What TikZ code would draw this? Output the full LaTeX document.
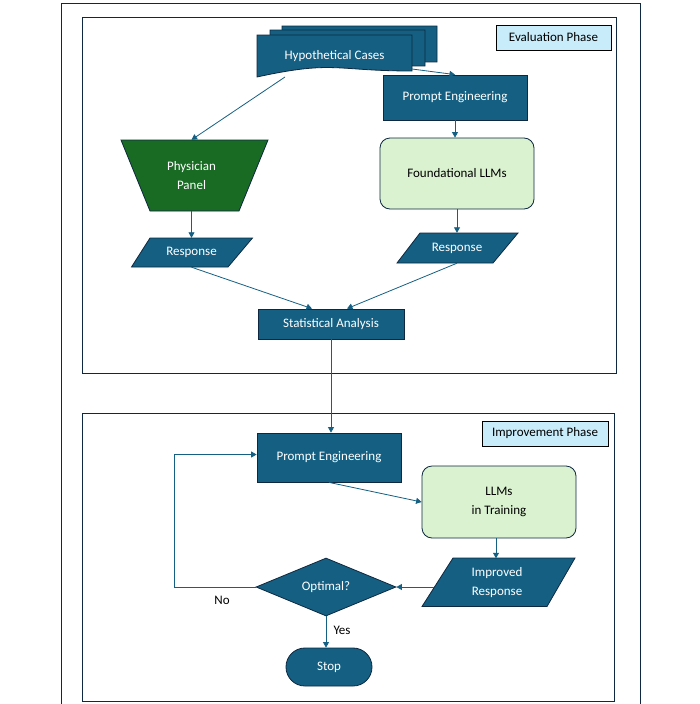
\documentclass[tikz,border=0pt]{standalone}
\usepackage{fontspec}
\setmainfont{Carlito}
\usetikzlibrary{arrows.meta,shapes.geometric,calc}
\definecolor{acc1}{HTML}{156082}
\definecolor{navy}{HTML}{0E2841}
\definecolor{dgreen}{HTML}{196B24}
\definecolor{lgreen}{HTML}{DAF2D0}
\definecolor{lblue}{HTML}{C9ECFA}
\begin{document}
\begin{tikzpicture}[x=1pt,y=-1pt,
  txt/.style={font=\fontsize{13}{19}\selectfont, align=center, inner sep=0pt},
  bbox/.style={txt, draw=navy, line width=0.8pt, fill=acc1, text=white},
  gbox/.style={txt, draw=navy, line width=0.8pt, fill=lgreen, text=black, rounded corners=10pt},
  wtxt/.style={txt, text=white},
  shp/.style={draw=navy, line width=0.8pt},
  phase/.style={txt, draw=black, line width=0.8pt, fill=lblue, text=black},
  arr/.style={draw=acc1, line width=0.8pt, -{Triangle[length=5.5pt,width=6pt]}},
  frm/.style={draw=navy, line width=1pt}]
\useasboundingbox (0,0) rectangle (700,704);
\fill[white] (0,0) rectangle (700,704);
% frames
\draw[frm] (61,704) -- (61,3) -- (640,3) -- (640,704);
\draw[frm] (82,17) rectangle (616,373);
\draw[frm] (82,413) rectangle (614,701);
% phase labels
\node[phase, minimum width=115, minimum height=25] (evl) at (553.5,37.5) {Evaluation Phase};
\node[phase, minimum width=126, minimum height=25] (iml) at (545,433.5) {Improvement Phase};
% hypothetical cases (multi-document)
\foreach \L/\T in {282/26, 270/30, 257/35}{
  \path[shp, fill=acc1] (\L,\T) -- ++(155,0) -- ++(0,36)
    .. controls ++(-77.5,0) and ++(77.5,-16.9) .. ++(-155,6) -- cycle;
}
\node[wtxt] (hyp) at (334.5,56) {Hypothetical Cases};
\coordinate (h1) at (285,77);
\coordinate (h2) at (412,69);
% prompt engineering 1
\node[bbox, minimum width=144, minimum height=45] (pe1) at (455,97.5) {Prompt Engineering};
% physician panel
\path[shp, fill=dgreen] (121,140) -- (268,140) -- (239,211) -- (150,211) -- cycle;
\node[wtxt, minimum width=88, minimum height=71] (phys) at (191.5,175.5) {Physician\\Panel};
% response left
\path[shp, fill=acc1] (150,238) -- (252.5,238) -- (228,267) -- (131.5,267) -- cycle;
\node[wtxt, minimum width=96, minimum height=29] (respL) at (191.5,252.5) {Response};
% foundational LLMs
\node[gbox, minimum width=154, minimum height=71] (found) at (457,173.5) {Foundational LLMs};
% response right
\path[shp, fill=acc1] (420,233) -- (518,233) -- (493,263) -- (397,263) -- cycle;
\node[wtxt, minimum width=96, minimum height=30] (respR) at (457,248) {Response};
% statistical analysis
\node[bbox, minimum width=146, minimum height=30] (stat) at (331,324) {Statistical Analysis};
% prompt engineering 2
\node[bbox, minimum width=144, minimum height=49] (pe2) at (329,457.5) {Prompt Engineering};
% LLMs in training
\node[gbox, minimum width=154, minimum height=72] (llm) at (499,502) {LLMs\\in Training};
% improved response
\path[shp, fill=acc1] (453,558) -- (575,558) -- (547,606.5) -- (422,606.5) -- cycle;
\node[wtxt, minimum width=122, minimum height=48] (impr) at (497,582.5) {Improved\\Response};
\coordinate (imprL) at (434,587);
% optimal
\node[txt, diamond, draw=navy, line width=0.8pt, fill=acc1, text=white,
      minimum width=140, minimum height=58, aspect=2.4] (opt) at (326,587) {Optimal?};
% stop
\node[bbox, minimum width=86, minimum height=38, rounded corners=18.9pt] (stop) at (329,667) {Stop};
% labels
\node[txt] (no) at (222,600) {No};
\node[txt] (yes) at (342,630) {Yes};
% connectors
\draw[arr] (h1) -- (phys.north);
\draw[arr] (h2) -- (pe1.north);
\draw[arr] (pe1.south) -- (pe1.south |- found.north);
\draw[arr] (phys.south) -- (respL.north);
\draw[arr] (found.south) -- (found.south |- respR.north);
\draw[arr] (respL.south) -- ([xshift=-19pt]stat.north);
\draw[arr] (respR.south) -- ([xshift=16pt]stat.north);
\draw[arr] (stat.south) -- (stat.south |- pe2.north);
\draw[arr] (pe2.south) -- (llm.west);
\draw[arr] ([xshift=-3pt]llm.south) -- ([xshift=-3pt]llm.south |- impr.north);
\draw[arr] (imprL) -- (opt.east);
\draw[arr] (opt.south) -- (opt.south |- stop.north);
\draw[arr] (opt.west) -- ++(-81,0) |- ([yshift=3pt]pe2.west);
\end{tikzpicture}
\end{document}
